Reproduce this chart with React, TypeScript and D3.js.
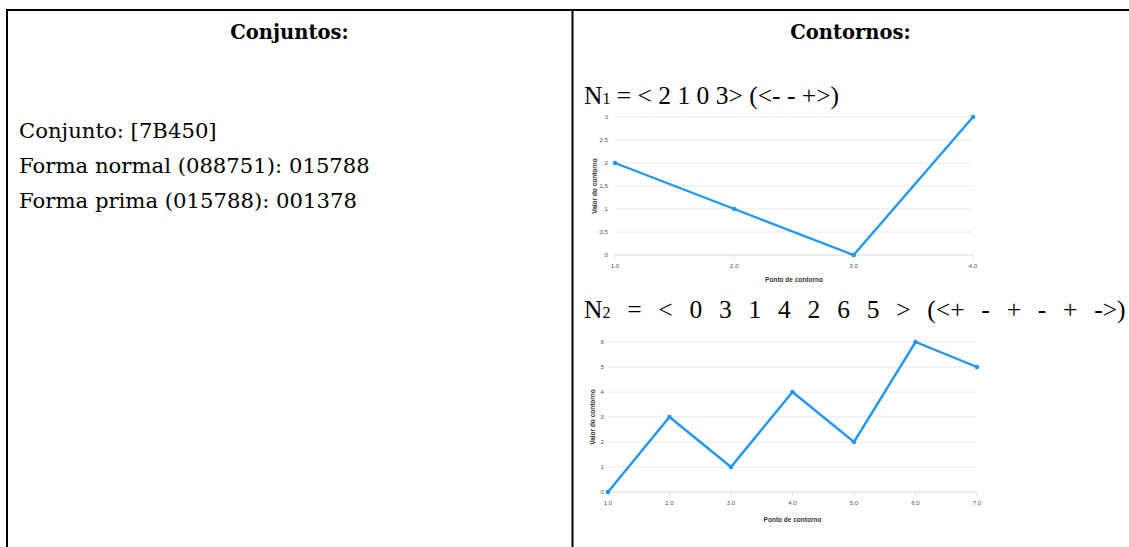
import React from "react";
import * as d3 from "d3";

// ---- data ----
const contour1Points = [1, 2, 3, 4];
const contour1Values = [2, 1, 0, 3];
const contour1YTicks = [0, 0.5, 1, 1.5, 2, 2.5, 3];

const contour2Points = [1, 2, 3, 4, 5, 6, 7];
const contour2Values = [0, 3, 1, 4, 2, 6, 5];
const contour2YTicks = [0, 1, 2, 3, 4, 5, 6];

const leftHeader = "Conjuntos:";
const rightHeader = "Contornos:";
const leftLines = [
  "Conjunto: [7B450]",
  "Forma normal (088751): 015788",
  "Forma prima (015788): 001378",
];
const n1Rest = " = < 2 1 0 3> (<- - +>)";
const n2Rest = " = < 0 3 1 4 2 6 5 > (<+ - + - + ->)";
const xTitle = "Ponto de contorno";
const yTitle = "Valor do contorno";

const BLUE = "#2196f3";
const SERIF = "'DejaVu Serif', 'Liberation Serif', serif";
const TIMES = "'Liberation Serif', serif";
const SANS = "'Liberation Sans', Arial, sans-serif";

type ChartProps = {
  xs: number[];
  ys: number[];
  yTicks: number[];
  x0: number;
  x1: number;
  yTop: number;
  yBottom: number;
  yLabelX: number;
  xLabelY: number;
  xTitleY: number;
  yTitleX: number;
};

function LineChart(p: ChartProps) {
  const x = d3
    .scaleLinear()
    .domain([d3.min(p.xs)!, d3.max(p.xs)!])
    .range([p.x0, p.x1]);
  const y = d3
    .scaleLinear()
    .domain([0, d3.max(p.yTicks)!])
    .range([p.yBottom, p.yTop]);
  const data = p.xs.map((v, i) => [v, p.ys[i]] as [number, number]);
  const line = d3
    .line<[number, number]>()
    .x((d) => x(d[0]))
    .y((d) => y(d[1]));
  const cy = (p.yTop + p.yBottom) / 2;
  const cx = (p.x0 + p.x1) / 2;
  return (
    <g>
      {p.yTicks.map((t) => (
        <g key={"y" + t}>
          <line
            x1={p.x0}
            x2={p.x1}
            y1={y(t)}
            y2={y(t)}
            stroke={t === 0 ? "#d8d8d8" : "#e8e8e8"}
            strokeWidth={1}
          />
          <text
            x={p.yLabelX}
            y={y(t)}
            dy="0.35em"
            textAnchor="end"
            fontFamily={SANS}
            fontSize={6.2}
            fill="#555"
          >
            {t}
          </text>
        </g>
      ))}
      {p.xs.map((t) => (
        <g key={"x" + t}>
          <line
            x1={x(t)}
            x2={x(t)}
            y1={p.yBottom}
            y2={p.yBottom + 4}
            stroke="#e0e0e0"
          />
          <text
            x={x(t)}
            y={p.xLabelY}
            dy="0.35em"
            textAnchor="middle"
            fontFamily={SANS}
            fontSize={6.2}
            fill="#555"
          >
            {t.toFixed(1)}
          </text>
        </g>
      ))}
      <path d={line(data)!} fill="none" stroke={BLUE} strokeWidth={2.4} />
      {data.map((d, i) => (
        <circle key={i} cx={x(d[0])} cy={y(d[1])} r={2.3} fill={BLUE} />
      ))}
      <text
        x={cx}
        y={p.xTitleY}
        dy="0.35em"
        textAnchor="middle"
        fontFamily={SANS}
        fontWeight="bold"
        fontSize={6.5}
        fill="#333"
      >
        {xTitle}
      </text>
      <text
        transform={`translate(${p.yTitleX},${cy}) rotate(-90)`}
        dy="0.35em"
        textAnchor="middle"
        fontFamily={SANS}
        fontWeight="bold"
        fontSize={6.5}
        fill="#333"
      >
        {yTitle}
      </text>
    </g>
  );
}

export default function App() {
  return (
    <svg
      width={1129}
      height={547}
      style={{ position: "absolute", left: 0, top: 0, background: "#fff" }}
    >
      <rect x={0} y={0} width={1129} height={547} fill="#fff" />
      {/* table borders */}
      <line x1={6} x2={1129} y1={10} y2={10} stroke="#000" strokeWidth={2} />
      <line x1={7} x2={7} y1={9} y2={547} stroke="#000" strokeWidth={2} />
      <line x1={572.5} x2={572.5} y1={9} y2={547} stroke="#000" strokeWidth={2} />

      {/* headers */}
      <text
        x={289.5}
        y={39}
        textAnchor="middle"
        fontFamily={SERIF}
        fontWeight="bold"
        fontSize={19.5}
        fill="#000"
      >
        {leftHeader}
      </text>
      <text
        x={850.5}
        y={39}
        textAnchor="middle"
        fontFamily={SERIF}
        fontWeight="bold"
        fontSize={19.5}
        fill="#000"
      >
        {rightHeader}
      </text>

      {leftLines.map((s, i) => (
        <text
          key={i}
          x={19}
          y={138 + i * 35}
          fontFamily={SERIF}
          fontSize={21.2}
          fill="#000"
        >
          {s}
        </text>
      ))}

      {/* N1 */}
      <text x={584} y={104} fontFamily={TIMES} fontSize={25.5} fill="#000">
        N<tspan fontSize={16}>1</tspan>
        {n1Rest}
      </text>
      {/* N2 */}
      <text
        x={584}
        y={318}
        fontFamily={TIMES}
        fontSize={25.5}
        fill="#000"
        style={{ wordSpacing: "10.4px", whiteSpace: "pre" }}
      >
        N<tspan fontSize={16}>2</tspan>
        {n2Rest}
      </text>

      <LineChart
        xs={contour1Points}
        ys={contour1Values}
        yTicks={contour1YTicks}
        x0={615}
        x1={973}
        yTop={117}
        yBottom={255}
        yLabelX={608}
        xLabelY={266}
        xTitleY={280}
        yTitleX={595}
      />
      <LineChart
        xs={contour2Points}
        ys={contour2Values}
        yTicks={contour2YTicks}
        x0={608}
        x1={977}
        yTop={342}
        yBottom={492}
        yLabelX={604}
        xLabelY={503}
        xTitleY={520}
        yTitleX={593}
      />
    </svg>
  );
}
